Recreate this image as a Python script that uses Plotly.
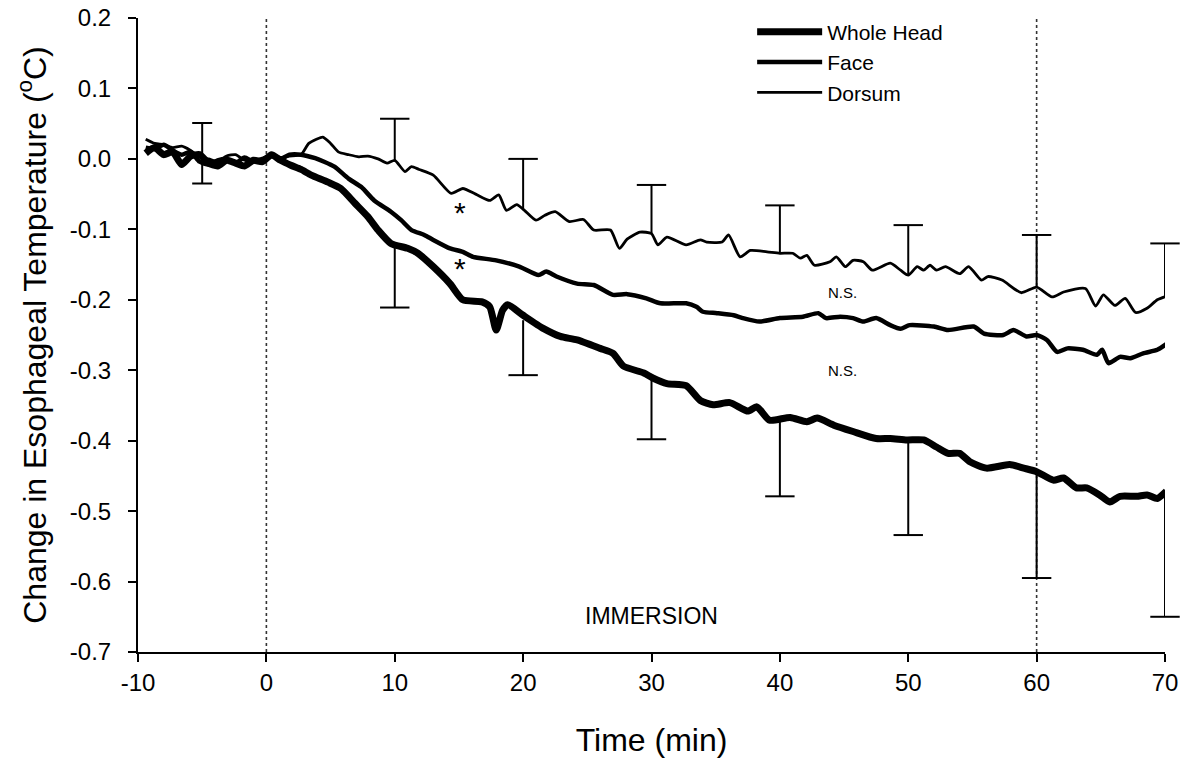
import plotly.graph_objects as go

# ---------------- data ----------------
dorsum_x = [-9.4, -8.7, -8.0, -7.3, -6.6, -5.9, -5.2, -4.5, -3.8, -3.1, -2.4, -1.7, -1.0, -0.3, 0.4, 1.1, 1.8,
            2.7, 3.3, 3.9, 4.4, 5.0, 5.6, 6.4, 7.2, 7.9, 8.7, 9.4, 10.0, 10.8, 11.3, 11.9, 13.0, 14.4, 15.3,
            16.3, 17.4, 18.1, 18.7, 19.5, 20.1, 21.0, 21.7, 22.5, 23.6, 24.7, 25.5, 26.8, 27.5, 28.1, 29.1,
            30.0, 30.5, 31.2, 32.7, 33.8, 34.3, 35.5, 36.0, 36.9, 37.7, 39.0, 40.0, 41.0, 41.6, 42.1, 42.7,
            43.9, 44.4, 45.1, 45.7, 46.5, 47.2, 48.6, 49.4, 50.0, 50.7, 51.2, 51.7, 52.2, 52.9, 54.0, 54.7,
            55.7, 56.2, 57.3, 58.8, 60.0, 61.2, 62.1, 63.8, 64.6, 65.2, 66.1, 66.9, 67.7, 68.6, 69.4, 70.1]
dorsum_y = [0.028, 0.022, 0.020, 0.016, 0.018, 0.012, 0.003, 0.000, -0.004, 0.004, 0.006, -0.002, -0.004, 0.000,
            0.006, 0.002, 0.004, 0.006, 0.022, 0.028, 0.031, 0.022, 0.010, 0.006, 0.003, 0.004, 0.000, -0.006,
            -0.002, -0.018, -0.011, -0.015, -0.023, -0.049, -0.042, -0.050, -0.059, -0.051, -0.073, -0.065,
            -0.073, -0.087, -0.080, -0.075, -0.089, -0.086, -0.101, -0.101, -0.127, -0.114, -0.104, -0.106,
            -0.122, -0.111, -0.122, -0.115, -0.118, -0.118, -0.108, -0.139, -0.130, -0.132, -0.134, -0.134,
            -0.141, -0.137, -0.151, -0.146, -0.139, -0.153, -0.144, -0.146, -0.158, -0.148, -0.158, -0.165,
            -0.153, -0.158, -0.151, -0.158, -0.153, -0.163, -0.153, -0.172, -0.167, -0.172, -0.190, -0.182,
            -0.196, -0.189, -0.184, -0.209, -0.193, -0.208, -0.198, -0.218, -0.212, -0.200, -0.195]

face_x = [-9.4, -8.7, -8.0, -7.3, -6.6, -5.9, -5.2, -4.5, -3.8, -3.1, -2.4, -1.7, -1.0, -0.3, 0.4, 1.1, 1.8,
          2.7, 3.8, 4.5, 5.3, 6.4, 7.4, 8.4, 9.7, 10.5, 11.3, 12.3, 13.0, 14.3, 15.3, 16.1, 17.9, 19.7, 21.2,
          21.8, 22.6, 24.2, 25.5, 27.0, 28.1, 29.6, 30.7, 32.7, 33.5, 34.0, 35.1, 36.4, 37.1, 38.4, 40.0,
          41.8, 43.0, 43.6, 44.7, 45.7, 46.5, 47.5, 48.6, 49.4, 50.1, 52.0, 53.1, 55.1, 55.9, 57.4, 58.2,
          59.2, 60.0, 60.8, 61.6, 62.4, 63.6, 64.7, 65.1, 65.6, 66.5, 67.3, 68.3, 69.4, 70.1]
face_y = [0.016, 0.014, 0.020, 0.012, 0.006, 0.010, -0.004, -0.008, -0.002, 0.000, -0.006, 0.002, -0.004,
          0.000, 0.004, 0.000, 0.006, 0.006, 0.001, -0.004, -0.011, -0.028, -0.040, -0.059, -0.075, -0.087,
          -0.101, -0.108, -0.115, -0.127, -0.132, -0.139, -0.144, -0.153, -0.165, -0.160, -0.167, -0.177,
          -0.179, -0.193, -0.192, -0.198, -0.205, -0.205, -0.210, -0.217, -0.219, -0.222, -0.226, -0.231,
          -0.226, -0.224, -0.219, -0.226, -0.224, -0.226, -0.231, -0.226, -0.236, -0.241, -0.236, -0.238,
          -0.243, -0.238, -0.248, -0.250, -0.243, -0.252, -0.250, -0.257, -0.274, -0.269, -0.271, -0.278,
          -0.271, -0.290, -0.281, -0.283, -0.276, -0.271, -0.263]

head_x = [-9.4, -8.7, -8.0, -7.3, -6.6, -5.9, -5.2, -4.5, -3.8, -3.1, -2.4, -1.7, -1.0, -0.3, 0.4, 1.1, 1.9,
          2.7, 3.5, 4.8, 5.8, 6.9, 7.9, 8.7, 9.7, 11.0, 11.8, 13.0, 14.3, 15.3, 16.8, 17.4, 17.9, 18.4, 18.8,
          20.0, 21.6, 22.9, 24.2, 26.0, 27.0, 27.8, 29.4, 30.1, 31.2, 32.7, 33.8, 34.8, 36.1, 37.5, 38.2,
          39.2, 40.8, 42.1, 42.9, 44.2, 45.7, 47.5, 48.6, 49.9, 51.2, 52.2, 53.1, 54.0, 54.8, 56.1, 57.9,
          59.0, 60.0, 61.3, 62.1, 63.1, 63.9, 64.9, 65.7, 66.5, 67.8, 68.6, 69.4, 70.1]
head_y = [0.008, 0.016, 0.006, 0.010, -0.008, 0.004, 0.006, -0.006, -0.010, -0.002, -0.006, -0.010, -0.002,
          -0.004, 0.006, -0.002, -0.009, -0.015, -0.023, -0.033, -0.042, -0.063, -0.082, -0.101, -0.120,
          -0.127, -0.134, -0.153, -0.177, -0.200, -0.203, -0.210, -0.243, -0.215, -0.207, -0.222, -0.241,
          -0.252, -0.257, -0.269, -0.276, -0.294, -0.304, -0.311, -0.319, -0.322, -0.343, -0.349, -0.346,
          -0.358, -0.352, -0.371, -0.367, -0.373, -0.368, -0.378, -0.387, -0.397, -0.397, -0.399, -0.399,
          -0.409, -0.418, -0.418, -0.430, -0.439, -0.434, -0.439, -0.444, -0.456, -0.453, -0.467, -0.467,
          -0.477, -0.487, -0.479, -0.479, -0.477, -0.482, -0.472]

# error bars (SE) every 10 min
bar_x = [10, 20, 30, 40, 50, 60, 70]
dorsum_bar_y = [-0.004, -0.073, -0.106, -0.134, -0.165, -0.182, -0.195]
dorsum_err = [0.061, 0.073, 0.069, 0.068, 0.071, 0.074, 0.075]
head_bar_y = [-0.122, -0.229, -0.311, -0.373, -0.399, -0.444, -0.472]
head_err = [0.089, 0.078, 0.087, 0.106, 0.135, 0.151, 0.178]
base_bar_x = [-5]
base_bar_y = [0.008]
base_err = [0.043]

x_tickvals = [-10, 0, 10, 20, 30, 40, 50, 60, 70]
x_ticktext = ["-10", "0", "10", "20", "30", "40", "50", "60", "70"]
y_tickvals = [0.2, 0.1, 0.0, -0.1, -0.2, -0.3, -0.4, -0.5, -0.6, -0.7]
y_ticktext = ["0.2", "0.1", "0.0", "-0.1", "-0.2", "-0.3", "-0.4", "-0.5", "-0.6", "-0.7"]

FONT = "Liberation Sans, Arial, sans-serif"
BLACK = "#000000"

fig = go.Figure()

fig.add_trace(go.Scatter(x=head_x, y=head_y, mode="lines", name="Whole Head",
                         line=dict(color=BLACK, width=7, shape="spline", smoothing=0.6)))
fig.add_trace(go.Scatter(x=face_x, y=face_y, mode="lines", name="Face",
                         line=dict(color=BLACK, width=4.5, shape="spline", smoothing=0.6)))
fig.add_trace(go.Scatter(x=dorsum_x, y=dorsum_y, mode="lines", name="Dorsum",
                         line=dict(color=BLACK, width=2.8, shape="spline", smoothing=0.6)))

# one-sided error bars: stem via error_y, cap via line-ew marker
fig.add_trace(go.Scatter(x=bar_x, y=dorsum_bar_y, mode="markers", showlegend=False, hoverinfo="skip",
                         cliponaxis=False, marker=dict(opacity=0, size=1),
                         error_y=dict(type="data", symmetric=False, array=dorsum_err,
                                      arrayminus=[0] * len(bar_x), width=0, thickness=2, color=BLACK)))
fig.add_trace(go.Scatter(x=bar_x, y=[v + e for v, e in zip(dorsum_bar_y, dorsum_err)], mode="markers",
                         showlegend=False, hoverinfo="skip", cliponaxis=False,
                         marker=dict(symbol="line-ew", size=21, line=dict(width=2, color=BLACK))))
fig.add_trace(go.Scatter(x=bar_x, y=head_bar_y, mode="markers", showlegend=False, hoverinfo="skip",
                         cliponaxis=False, marker=dict(opacity=0, size=1),
                         error_y=dict(type="data", symmetric=False, array=[0] * len(bar_x),
                                      arrayminus=head_err, width=0, thickness=2, color=BLACK)))
fig.add_trace(go.Scatter(x=bar_x, y=[v - e for v, e in zip(head_bar_y, head_err)], mode="markers",
                         showlegend=False, hoverinfo="skip", cliponaxis=False,
                         marker=dict(symbol="line-ew", size=21, line=dict(width=2, color=BLACK))))
fig.add_trace(go.Scatter(x=base_bar_x, y=base_bar_y, mode="markers", showlegend=False, hoverinfo="skip",
                         cliponaxis=False, marker=dict(opacity=0, size=1),
                         error_y=dict(type="data", array=base_err, width=10, thickness=2, color=BLACK)))

# immersion period markers
for xv in (0, 60):
    fig.add_shape(type="line", xref="x", yref="paper", x0=xv, x1=xv, y0=0, y1=1,
                  line=dict(color="#333333", width=1.6, dash="dot"), layer="below")

fig.add_annotation(x=15.1, y=-0.076, text="*", showarrow=False, font=dict(size=30, color=BLACK, family=FONT))
fig.add_annotation(x=15.1, y=-0.155, text="*", showarrow=False, font=dict(size=30, color=BLACK, family=FONT))
fig.add_annotation(x=44.9, y=-0.189, text="N.S.", showarrow=False, font=dict(size=15, color=BLACK, family=FONT))
fig.add_annotation(x=44.9, y=-0.300, text="N.S.", showarrow=False, font=dict(size=15, color=BLACK, family=FONT))
fig.add_annotation(x=30, y=-0.649, text="IMMERSION", showarrow=False, font=dict(size=23, color=BLACK, family=FONT))

fig.update_layout(
    width=1195, height=758,
    margin=dict(l=138, r=30, t=18, b=106),
    paper_bgcolor="white", plot_bgcolor="white",
    font=dict(family=FONT, color=BLACK),
    showlegend=True,
    legend=dict(x=0.598, y=1.010, xanchor="left", yanchor="top", bgcolor="rgba(0,0,0,0)",
                font=dict(size=21, family=FONT, color=BLACK), itemwidth=65, tracegroupgap=0),
    xaxis=dict(range=[-10, 70], tickmode="array", tickvals=x_tickvals, ticktext=x_ticktext,
               showgrid=False, zeroline=False, showline=True, linecolor=BLACK, linewidth=2,
               ticks="outside", ticklen=8, tickwidth=2, tickcolor=BLACK, automargin=False,
               tickfont=dict(size=24, family=FONT, color=BLACK), ticklabelstandoff=0,
               title=dict(text="Time (min)", font=dict(size=32, family=FONT, color=BLACK), standoff=38)),
    yaxis=dict(range=[-0.7, 0.2], tickmode="array", tickvals=y_tickvals, ticktext=y_ticktext,
               showgrid=False, zeroline=False, showline=True, linecolor=BLACK, linewidth=2,
               ticks="outside", ticklen=8, tickwidth=2, tickcolor=BLACK, automargin=False,
               tickfont=dict(size=24, family=FONT, color=BLACK), ticklabelstandoff=12,
               title=dict(text="Change in Esophageal Temperature (<sup>o</sup>C)",
                          font=dict(size=32, family=FONT, color=BLACK), standoff=14)),
)

fig.write_html("out.html")
